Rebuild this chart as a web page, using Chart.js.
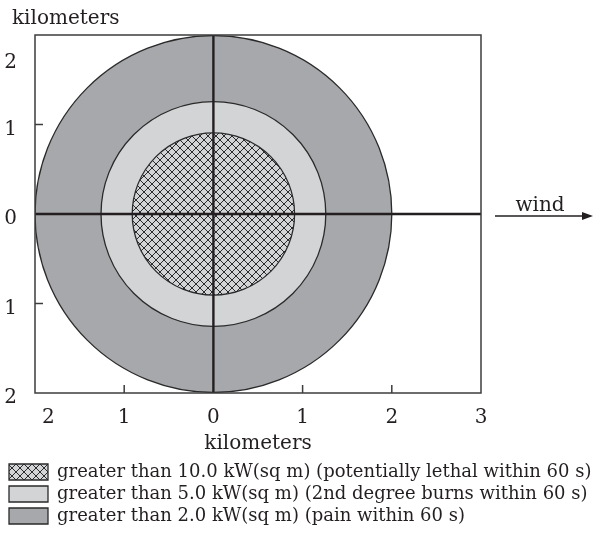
<!DOCTYPE html>
<html>
<head>
<meta charset="utf-8">
<script src="https://cdn.jsdelivr.net/npm/chart.js@4.4.0/dist/chart.umd.min.js"></script>
<style>
  html, body { margin: 0; padding: 0; background: #fff; }
  #wrap { width: 600px; height: 544px; }
</style>
</head>
<body>
<div id="wrap"><canvas id="zoneChart"></canvas></div>
<script>
// thermal radiation zones, radii in km
const zoneLabels = [
    'greater than 10.0 kW(sq m) (potentially lethal within 60 s)',
    'greater than 5.0 kW(sq m) (2nd degree burns within 60 s)',
    'greater than 2.0 kW(sq m) (pain within 60 s)'
];
const zoneRadiusKm = [0.91, 1.26, 2.0];

// cross lines through the source
const verticalLine = [{ x: 0, y: -2 }, { x: 0, y: 2 }];
const horizontalLine = [{ x: -2, y: 0 }, { x: 3, y: 0 }];

// tick labels (the figure shows distances, no sign)
const xTickValues = [-1.85, -1, 0, 1, 2, 3];
const xTickLabels = ['2', '1', '0', '1', '2', '3'];
const yTickValues = [-2, -1, 0, 1, 1.74];
const yTickLabels = ['2', '1', '0', '1', '2'];
const xTickMarks = [-1, 1, 2];
const yTickMarks = [-1, 1];

const ink = '#231f20';
const zoneFills = [null, '#d3d4d6', '#a7a8ab'];

function makeHatch() {
    const c = document.createElement('canvas');
    c.width = 8;
    c.height = 8;
    const g = c.getContext('2d');
    g.fillStyle = '#d3d4d6';
    g.fillRect(0, 0, 8, 8);
    g.strokeStyle = '#2b2b2b';
    g.lineWidth = 1;
    g.beginPath();
    g.moveTo(0, 0); g.lineTo(8, 8);
    g.moveTo(8, 0); g.lineTo(0, 8);
    g.stroke();
    return g.createPattern(c, 'repeat');
}
zoneFills[0] = makeHatch();

// radius in km -> pixels through the x scale
function kmToPx(chart, km) {
    const s = chart.scales.x;
    return Math.abs(s.getPixelForValue(km) - s.getPixelForValue(0));
}

const framePlugin = {
    id: 'frameAndTicks',
    afterDatasetsDraw(chart) {
        const { ctx, chartArea: a, scales: { x, y } } = chart;
        ctx.save();
        ctx.strokeStyle = '#3d3d3d';
        ctx.lineWidth = 1.5;
        ctx.strokeRect(a.left, a.top, a.right - a.left, a.bottom - a.top);
        ctx.beginPath();
        xTickMarks.forEach(v => {
            const px = x.getPixelForValue(v);
            ctx.moveTo(px, a.bottom);
            ctx.lineTo(px, a.bottom - 8);
        });
        yTickMarks.forEach(v => {
            const py = y.getPixelForValue(v);
            ctx.moveTo(a.left, py);
            ctx.lineTo(a.left + 8, py);
        });
        ctx.stroke();
        ctx.restore();
    },
    afterDraw(chart) {
        const { ctx, scales: { x, y } } = chart;
        ctx.save();
        // top-left axis label
        ctx.fillStyle = ink;
        ctx.font = '20px "DejaVu Serif"';
        ctx.textAlign = 'left';
        ctx.textBaseline = 'alphabetic';
        ctx.fillText('kilometers', 12, 24);
        // wind arrow
        const x0 = x.getPixelForValue(3) + 14;
        const x1 = chart.width - 7;
        const yy = y.getPixelForValue(0) + 2;
        ctx.strokeStyle = ink;
        ctx.lineWidth = 1.3;
        ctx.beginPath();
        ctx.moveTo(x0, yy);
        ctx.lineTo(x1 - 8, yy);
        ctx.stroke();
        ctx.beginPath();
        ctx.moveTo(x1, yy);
        ctx.lineTo(x1 - 11, yy - 4);
        ctx.lineTo(x1 - 11, yy + 4);
        ctx.closePath();
        ctx.fill();
        ctx.textAlign = 'center';
        ctx.fillText('wind', (x0 + x1) / 2 - 4, yy - 5);
        ctx.restore();
    }
};

Chart.defaults.font.family = '"DejaVu Serif", serif';
Chart.defaults.color = ink;

const datasets = [
    {
        type: 'scatter', label: 'vertical', data: verticalLine, showLine: true,
        borderColor: ink, borderWidth: 2.4, pointRadius: 0
    },
    {
        type: 'scatter', label: 'horizontal', data: horizontalLine, showLine: true,
        borderColor: ink, borderWidth: 2.4, pointRadius: 0
    }
];
zoneLabels.forEach((label, i) => {
    datasets.push({
        type: 'scatter',
        label: label,
        data: [{ x: 0, y: 0, r: zoneRadiusKm[i] }],
        backgroundColor: zoneFills[i],
        borderColor: '#2a2a2a',
        borderWidth: 1.3,
        pointBorderWidth: 1.3,
        pointRadius: ctx => kmToPx(ctx.chart, ctx.raw.r),
        pointHoverRadius: ctx => kmToPx(ctx.chart, ctx.raw.r)
    });
});

new Chart(document.getElementById('zoneChart'), {
    type: 'scatter',
    data: { datasets: datasets },
    plugins: [framePlugin],
    options: {
        responsive: true,
        maintainAspectRatio: false,
        animation: false,
        events: [],
        layout: { padding: { top: 35, left: 5, right: 0, bottom: 9 } },
        scales: {
            x: {
                type: 'linear', min: -2, max: 3,
                grid: { display: false },
                border: { display: false },
                afterBuildTicks: s => { s.ticks = xTickValues.map(v => ({ value: v })); },
                afterFit: s => { s.height = 66; },
                ticks: {
                    padding: 5,
                    font: { size: 20 },
                    maxRotation: 0,
                    callback: (v, i) => xTickLabels[i]
                },
                title: { display: true, text: 'kilometers', font: { size: 20 }, padding: { top: 0, bottom: 3 } }
            },
            y: {
                type: 'linear', min: -2, max: 2,
                grid: { display: false },
                border: { display: false },
                afterBuildTicks: s => { s.ticks = yTickValues.map(v => ({ value: v })); },
                afterFit: s => { s.width = 30; },
                ticks: {
                    padding: 10,
                    labelOffset: 5,
                    font: { size: 20 },
                    callback: (v, i) => yTickLabels[i]
                }
            },
            yRight: {
                type: 'linear', position: 'right', display: true,
                grid: { display: false },
                border: { display: false },
                ticks: { display: false },
                afterFit: s => { s.width = 119; }
            }
        },
        plugins: {
            tooltip: { enabled: false },
            legend: {
                position: 'bottom',
                align: 'start',
                labels: {
                    boxWidth: 39,
                    boxHeight: 16,
                    padding: 4,
                    font: { size: 18 },
                    color: ink,
                    filter: item => item.datasetIndex >= 2
                }
            }
        }
    }
});
</script>
</body>
</html>
